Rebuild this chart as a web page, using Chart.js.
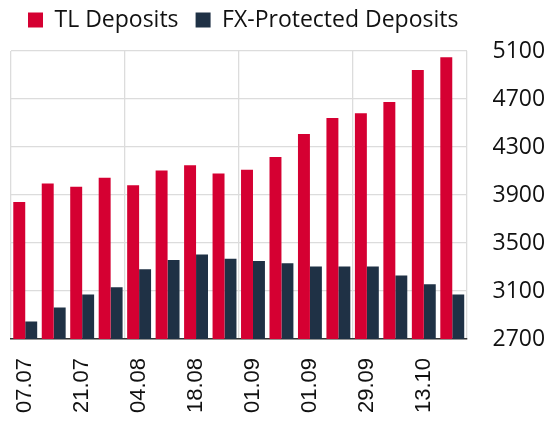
<!DOCTYPE html>
<html>
<head>
<meta charset="utf-8">
<script src="https://cdn.jsdelivr.net/npm/chart.js@4.4.0/dist/chart.umd.min.js"></script>
<style>
  html, body { margin: 0; padding: 0; background: #fff; }
  #wrap { width: 552px; height: 421px; }
</style>
</head>
<body>
<div id="wrap"><canvas id="chart"></canvas></div>
<script>
// weekly dates (the 11th label reads 01.09 in the source)
const dates = ["07.07", "14.07", "21.07", "28.07", "04.08", "11.08", "18.08", "25.08",
               "01.09", "08.09", "01.09", "22.09", "29.09", "06.10", "13.10", "20.10"];
const tlDeposits = [3842, 3996, 3968, 4043, 3982, 4105, 4147, 4080,
                    4110, 4216, 4409, 4542, 4582, 4674, 4941, 5047];
const fxProtected = [2845, 2962, 3071, 3132, 3282, 3358, 3405, 3369,
                     3349, 3332, 3305, 3305, 3305, 3229, 3157, 3071];
const yTicks = [2700, 3100, 3500, 3900, 4300, 4700, 5100];

const RED = "#d50032";
const NAVY = "#1f3145";
const GRID = "#dcdcdc";

// push the plot down a bit below the legend
const legendGap = {
  id: "legendGap",
  beforeInit(chart) {
    const fit = chart.legend.fit;
    chart.legend.fit = function () {
      fit.call(this);
      this.height += 9.5;
    };
  }
};

new Chart(document.getElementById("chart"), {
  type: "bar",
  data: {
    labels: dates,
    datasets: [
      { label: "TL Deposits", data: tlDeposits, backgroundColor: RED },
      { label: "FX-Protected Deposits", data: fxProtected, backgroundColor: NAVY }
    ]
  },
  plugins: [legendGap],
  options: {
    responsive: true,
    maintainAspectRatio: false,
    animation: false,
    layout: { padding: { top: -8.5, left: 11, right: 0, bottom: 0 } },
    datasets: { bar: { categoryPercentage: 0.84, barPercentage: 1 } },
    plugins: {
      tooltip: { enabled: false },
      legend: {
        align: "start",
        labels: {
          boxWidth: 15,
          boxHeight: 15,
          padding: 17,
          color: "#111",
          font: { family: "Open Sans", size: 23 }
        }
      }
    },
    scales: {
      x: {
        afterFit: (scale) => {
          scale.height = 82;
          scale.paddingLeft = 0;
          scale.paddingRight = 0;
        },
        grid: {
          drawTicks: false,
          lineWidth: 1.3,
          // vertical lines only every 4th week plus the right edge
          color: (ctx) => (ctx.index === undefined || ctx.index % 4 === 0) ? GRID : "rgba(0,0,0,0)"
        },
        border: { color: "#333", width: 1.5 },
        ticks: {
          autoSkip: false,
          minRotation: 90,
          maxRotation: 90,
          padding: 19,
          color: "#111",
          font: { family: "Liberation Sans", size: 22 },
          callback: (v, i) => (i % 2 === 0 ? dates[i] : "")
        }
      },
      y: {
        position: "right",
        min: 2700,
        max: 5100,
        afterBuildTicks: (scale) => { scale.ticks = yTicks.map((v) => ({ value: v })); },
        afterFit: (scale) => {
          scale.width = 85.5;
          scale.paddingTop = 0;
          scale.paddingBottom = 0;
        },
        grid: { drawTicks: false, color: GRID, lineWidth: 1.3 },
        border: { display: false },
        ticks: {
          padding: 26,
          color: "#111",
          font: { family: "Open Sans", size: 23 },
          callback: (v) => String(v)
        }
      }
    }
  }
});
</script>
</body>
</html>
